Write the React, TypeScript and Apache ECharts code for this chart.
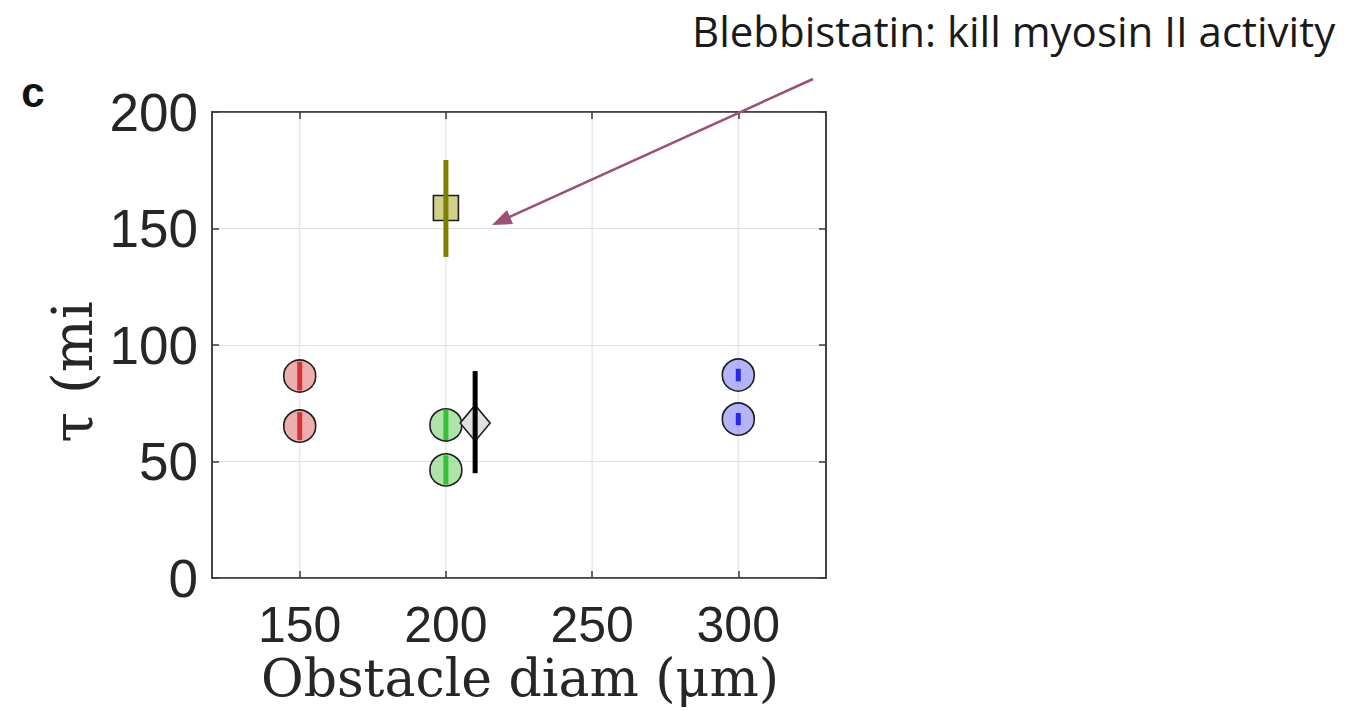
import React, { useEffect, useRef } from "react";
import * as echarts from "echarts";

const xTicks = [150, 200, 250, 300];
const yTicks = [0, 50, 100, 150, 200];

const redX = [150, 150];
const redY = [86.7, 65.2];
const redLo = [80.5, 59.2];
const redHi = [92.8, 71.2];

const greenX = [200, 200];
const greenY = [65.7, 46.4];
const greenLo = [59.2, 40.2];
const greenHi = [72.2, 52.6];

const blueX = [300, 300];
const blueY = [87.1, 68.2];
const blueLo = [84.4, 65.6];
const blueHi = [89.8, 70.8];

const blebX = [200];
const blebY = [158.8];
const blebLo = [137.8];
const blebHi = [179.4];

const ctrlX = [210];
const ctrlY = [66.5];
const ctrlLo = [45.0];
const ctrlHi = [88.8];

function errSeries(xs: number[], lo: number[], hi: number[], color: string, width: number, z: number) {
  return {
    type: "custom",
    z,
    silent: true,
    data: xs.map((x, i) => [x, lo[i], hi[i]]),
    renderItem: (_p: any, api: any) => {
      const a = api.coord([api.value(0), api.value(1)]);
      const b = api.coord([api.value(0), api.value(2)]);
      return {
        type: "rect",
        shape: { x: a[0] - width / 2, y: b[1], width, height: a[1] - b[1] },
        style: { fill: color, stroke: "none" },
      };
    },
  };
}

function scatter(xs: number[], ys: number[], symbol: string, size: any, fill: string, z: number) {
  return {
    type: "scatter",
    z,
    symbol,
    symbolSize: size,
    data: xs.map((x, i) => [x, ys[i]]),
    itemStyle: { color: fill, borderColor: "#1e1e1e", borderWidth: 1.6, opacity: 1 },
  };
}

export default function App() {
  const ref = useRef<HTMLDivElement>(null);
  useEffect(() => {
    const chart = echarts.init(ref.current!, null, { renderer: "svg" });
    const axisLineColor = "#3a3a3a";
    chart.setOption({
      animation: false,
      backgroundColor: "#ffffff",
      grid: { left: 212, top: 112, right: 522, bottom: 133, show: true, borderColor: axisLineColor, borderWidth: 1.5 },
      xAxis: [
        {
          type: "value",
          min: 120,
          max: 330,
          axisLine: { show: true, onZero: false, lineStyle: { color: axisLineColor, width: 1.5 } },
          axisTick: { show: true, inside: true, length: 7, customValues: xTicks, lineStyle: { color: axisLineColor, width: 1.5 } },
          axisLabel: { customValues: xTicks, fontSize: 50, color: "#262626", fontFamily: "Liberation Sans", margin: 22 },
          splitLine: { show: false },
        },
        {
          type: "value",
          position: "top",
          min: 120,
          max: 330,
          axisLine: { show: true, onZero: false, lineStyle: { color: axisLineColor, width: 1.5 } },
          axisTick: { show: true, inside: true, length: 7, customValues: xTicks, lineStyle: { color: axisLineColor, width: 1.5 } },
          axisLabel: { show: false },
          splitLine: { show: false },
        },
      ],
      yAxis: [
        {
          type: "value",
          min: 0,
          max: 200,
          interval: 50,
          axisLine: { show: true, onZero: false, lineStyle: { color: axisLineColor, width: 1.5 } },
          axisTick: { show: true, inside: true, length: 7, lineStyle: { color: axisLineColor, width: 1.5 } },
          axisLabel: { fontSize: 53, color: "#262626", fontFamily: "Liberation Sans", margin: 14 },
          splitLine: { show: true, lineStyle: { color: "#e2e2e2", width: 1.2 } },
        },
        {
          type: "value",
          position: "right",
          min: 0,
          max: 200,
          interval: 50,
          axisLine: { show: true, onZero: false, lineStyle: { color: axisLineColor, width: 1.5 } },
          axisTick: { show: true, inside: true, length: 7, lineStyle: { color: axisLineColor, width: 1.5 } },
          axisLabel: { show: false },
          splitLine: { show: false },
        },
      ],
      series: [
        {
          type: "custom",
          z: 0,
          silent: true,
          data: xTicks.map((v) => [v]),
          renderItem: (_p: any, api: any) => {
            const a = api.coord([api.value(0), 0]);
            const b = api.coord([api.value(0), 200]);
            return {
              type: "line",
              shape: { x1: a[0], y1: a[1], x2: b[0], y2: b[1] },
              style: { stroke: "#e2e2e2", lineWidth: 1.2 },
            };
          },
        },
        scatter(redX, redY, "circle", 32, "rgba(228,120,120,0.6)", 3),
        scatter(greenX, greenY, "circle", 32, "rgba(120,210,110,0.6)", 3),
        scatter(blueX, blueY, "circle", 32, "rgba(130,130,245,0.6)", 3),
        scatter(blebX, blebY, "rect", 25, "rgba(208,208,140,1)", 3),
        scatter(ctrlX, ctrlY, "diamond", [30, 36], "rgba(225,225,225,1)", 3),
        errSeries(redX, redLo, redHi, "#d0343a", 5, 4),
        errSeries(greenX, greenLo, greenHi, "#35c035", 5, 4),
        errSeries(blueX, blueLo, blueHi, "#2828e8", 5, 4),
        errSeries(blebX, blebLo, blebHi, "#7f7f00", 5, 4),
        errSeries(ctrlX, ctrlLo, ctrlHi, "#000000", 5, 4),
      ],
      graphic: [
        {
          type: "text",
          x: 33,
          y: 92,
          style: { text: "c", fontSize: 42, fontWeight: "bold", fontFamily: "Liberation Sans", fill: "#111", align: "center", verticalAlign: "middle" },
        },
        {
          type: "text",
          x: 72,
          y: 372,
          rotation: Math.PI / 2,
          style: { text: "τ (mi", fontSize: 56, fontFamily: "DejaVu Serif", fill: "#262626", align: "center", verticalAlign: "middle" },
        },
        {
          type: "text",
          x: 520,
          y: 678,
          style: { text: "Obstacle diam (μm)", fontSize: 52, fontFamily: "DejaVu Serif", fill: "#262626", align: "center", verticalAlign: "middle" },
        },
        {
          type: "text",
          x: 692,
          y: 30,
          style: { text: "Blebbistatin: kill myosin II activity", fontSize: 42, fontFamily: "Open Sans", fill: "#1a1a1a", align: "left", verticalAlign: "middle" },
        },
        { type: "line", z: 100, shape: { x1: 813, y1: 79, x2: 505, y2: 219 }, style: { stroke: "#9c4f78", lineWidth: 2.5 } },
        {
          type: "polygon",
          z: 100,
          shape: { points: [[492, 225], [507, 210], [513, 224]] },
          style: { fill: "#9c4f78" },
        },
      ],
    });
    return () => chart.dispose();
  }, []);
  return <div ref={ref} style={{ position: "fixed", left: 0, top: 0, width: 1348, height: 711 }} />;
}
